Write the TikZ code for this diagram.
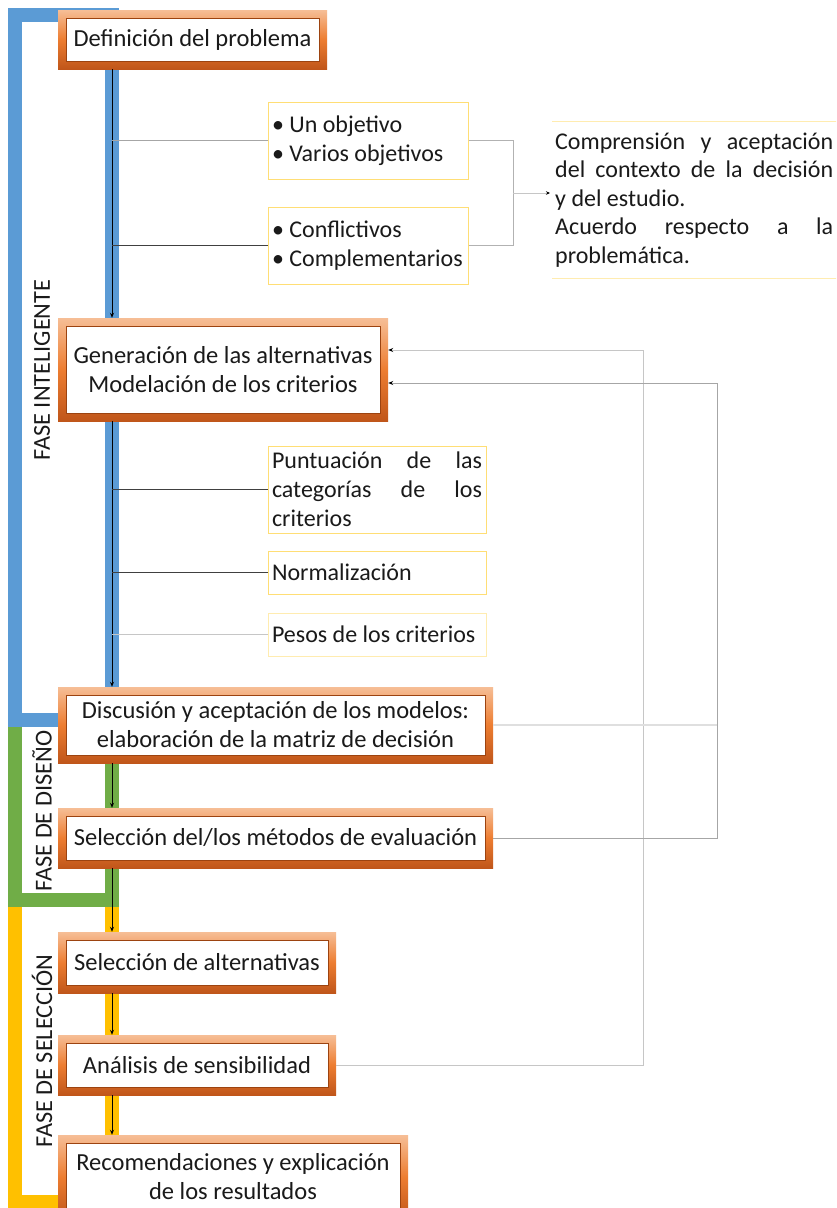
\documentclass[tikz,border=0pt]{standalone}
\usepackage{fontspec}
\setmainfont{Carlito}
\usetikzlibrary{arrows.meta,shadings,calc}
\definecolor{pblue}{HTML}{5B9BD5}
\definecolor{pgreen}{HTML}{70AD47}
\definecolor{pyellow}{HTML}{FFC000}
\definecolor{oLight}{HTML}{F6BE96}
\definecolor{oMid}{HTML}{ED7D31}
\definecolor{oDark}{HTML}{C0561A}
\definecolor{oEdge}{HTML}{9C4310}
\definecolor{ybord}{HTML}{FFDE75}
\definecolor{ybordl}{HTML}{FFECB0}
\definecolor{txt}{HTML}{1A1A1A}
\newcommand{\jline}[2]{\makebox[#1]{#2}}
\tikzset{
  bigfont/.style={font=\fontsize{24}{29}\selectfont},
  boxfont/.style={font=\fontsize{24.5}{29}\selectfont},
  obox/.style={rectangle, inner sep=0pt, align=flush center, text=txt, boxfont,
    top color=oLight, bottom color=oDark, middle color=oMid,
    path picture={
      \fill[white, draw=oEdge, line width=0.8pt]
        ([shift={(8pt,8pt)}]path picture bounding box.south west) rectangle
        ([shift={(-8pt,-8pt)}]path picture bounding box.north east);
    }},
  ybox/.style={rectangle, draw=ybord, line width=1pt, fill=white, inner xsep=4pt, inner ysep=0pt,
    align=flush left, text=txt, bigfont},
  phase/.style={line width=14pt, line cap=butt, line join=miter},
  plabel/.style={rotate=90, text=txt, font=\fontsize{24.3}{29}\selectfont},
  spinearr/.style={draw=black, line width=0.8pt, -{Stealth[length=5pt,width=4pt]}},
  fbarr/.style={line width=1pt, -{Stealth[length=5pt,width=4pt,color=black]}},
}
\begin{document}
\begin{tikzpicture}[x=1pt,y=1pt]
\useasboundingbox (0,0) rectangle (836,-1208);
\clip (0,0) rectangle (836,-1208);
\fill[white] (0,0) rectangle (836,-1208);

% phase brackets
\draw[phase, pblue] (15,-15) rectangle (111.5,-719.5);
\draw[phase, pgreen] (15,-726.5) -- (15,-899.5) -- (111.5,-899.5) -- (111.5,-726.5);
\draw[phase, pyellow] (15,-906.5) -- (15,-1201.5) -- (111.5,-1201.5) -- (111.5,-906.5);

% phase labels
\node[plabel] (l1) at (42,-370) {FASE INTELIGENTE};
\node[plabel] (l2) at (42,-811) {FASE DE DISEÑO};
\node[plabel] (l3) at (42,-1051) {FASE DE SELECCIÓN};

% main boxes
\node[obox, minimum width=269pt, minimum height=59pt] (def) at (192.5,-39.5) {Definición del problema};
\node[obox, minimum width=330pt, minimum height=103pt] (gen) at (223,-369.5) {Generación de las alternativas\\Modelación de los criterios};
\node[obox, minimum width=435pt, minimum height=76pt] (disc) at (275.5,-725) {Discusión y aceptación de los modelos:\\elaboración de la matriz de decisión};
\node[obox, minimum width=435pt, minimum height=60pt] (selm) at (275.5,-838) {Selección del/los métodos de evaluación};
\node[obox, minimum width=278pt, minimum height=61pt] (sela) at (197,-962.5) {Selección de alternativas};
\node[obox, minimum width=278pt, minimum height=60pt] (anal) at (197,-1065) {Análisis de sensibilidad};
\node[obox, minimum width=350pt, minimum height=84pt] (rec) at (233,-1177) {Recomendaciones y explicación\\de los resultados};

% yellow boxes
\node[ybox, text width=192pt, minimum height=77pt] (obj) at (368,-140.5) {\raisebox{-2pt}{• Un objetivo}\\\raisebox{-2pt}{• Varios objetivos}};
\node[ybox, text width=192pt, minimum height=77pt] (conf) at (368,-245.5) {\raisebox{-2pt}{• Conflictivos}\\\raisebox{-2pt}{• Complementarios}};
\node[ybox, text width=210pt, minimum height=87pt] (punt) at (377,-489.5)
  {\jline{210pt}{Puntuación\hfill de\hfill las}\\\jline{210pt}{categorías\hfill de\hfill los}\\criterios};
\node[ybox, text width=210pt, minimum height=43pt] (norm) at (377,-572.5) {Normalización};
\node[ybox, draw=ybordl, text width=210pt, minimum height=43pt] (pes) at (377,-634.5) {Pesos de los criterios};

% right text box
\node[rectangle, inner xsep=3pt, inner ysep=0pt, text width=278pt, minimum height=156pt, align=flush left, text=txt,
  font=\fontsize{24}{28.5}\selectfont, anchor=west] (cmp) at (552,-200)
  {\jline{278pt}{Comprensión\hfill y\hfill aceptación}\\\jline{278pt}{del\hfill contexto\hfill de\hfill la\hfill decisión}\\y del estudio.\\\jline{278pt}{Acuerdo\hfill respecto\hfill a\hfill la}\\problemática.};
\draw[ybordl, line width=1.2pt] (cmp.north west) -- ++(300,0);
\draw[ybordl, line width=1.2pt] (cmp.south west) -- ++(300,0);

% spine
\coordinate (sx) at (112,0);
\draw[spinearr] (def.south -| sx) -- (gen.north -| sx);
\draw[spinearr] (gen.south -| sx) -- (disc.north -| sx);
\draw[spinearr] (disc.south -| sx) -- (selm.north -| sx);
\draw[spinearr] (selm.south -| sx) -- (sela.north -| sx);
\draw[spinearr] (sela.south -| sx) -- (anal.north -| sx);
\draw[spinearr] (anal.south -| sx) -- (rec.north -| sx);

% branches
\draw[gray!70, line width=1pt] (obj.west -| sx) -- (obj.west);
\draw[black!75, line width=1pt] (conf.west -| sx) -- (conf.west);
\draw[black!75, line width=1pt] (punt.west -| sx) -- (punt.west);
\draw[black!75, line width=1pt] (norm.west -| sx) -- (norm.west);
\draw[gray!45, line width=1pt] (pes.west -| sx) -- (pes.west);

% merge to right box
\coordinate (mj) at (513,-193);
\draw[gray!60, line width=1pt] (obj.east) -| (mj);
\draw[gray!60, line width=1pt] (conf.east) -| (mj);
\draw[gray!45, line width=0.8pt, -{Stealth[length=4pt,width=3.5pt,color=black]}] (mj) -- ($(cmp.west |- mj)+(-2,0)$);

% feedback loops
\coordinate (fa) at (643,-350);
\coordinate (fb) at (717,-383);
\draw[fbarr, gray!45] (anal.east) -| (fa) -- (fa -| gen.east);
\draw[fbarr, gray!70] (selm.east) -| (fb) -- (fb -| gen.east);
\draw[gray!25, line width=1.2pt] (disc.east) -- (disc.east -| fb);
\end{tikzpicture}
\end{document}
